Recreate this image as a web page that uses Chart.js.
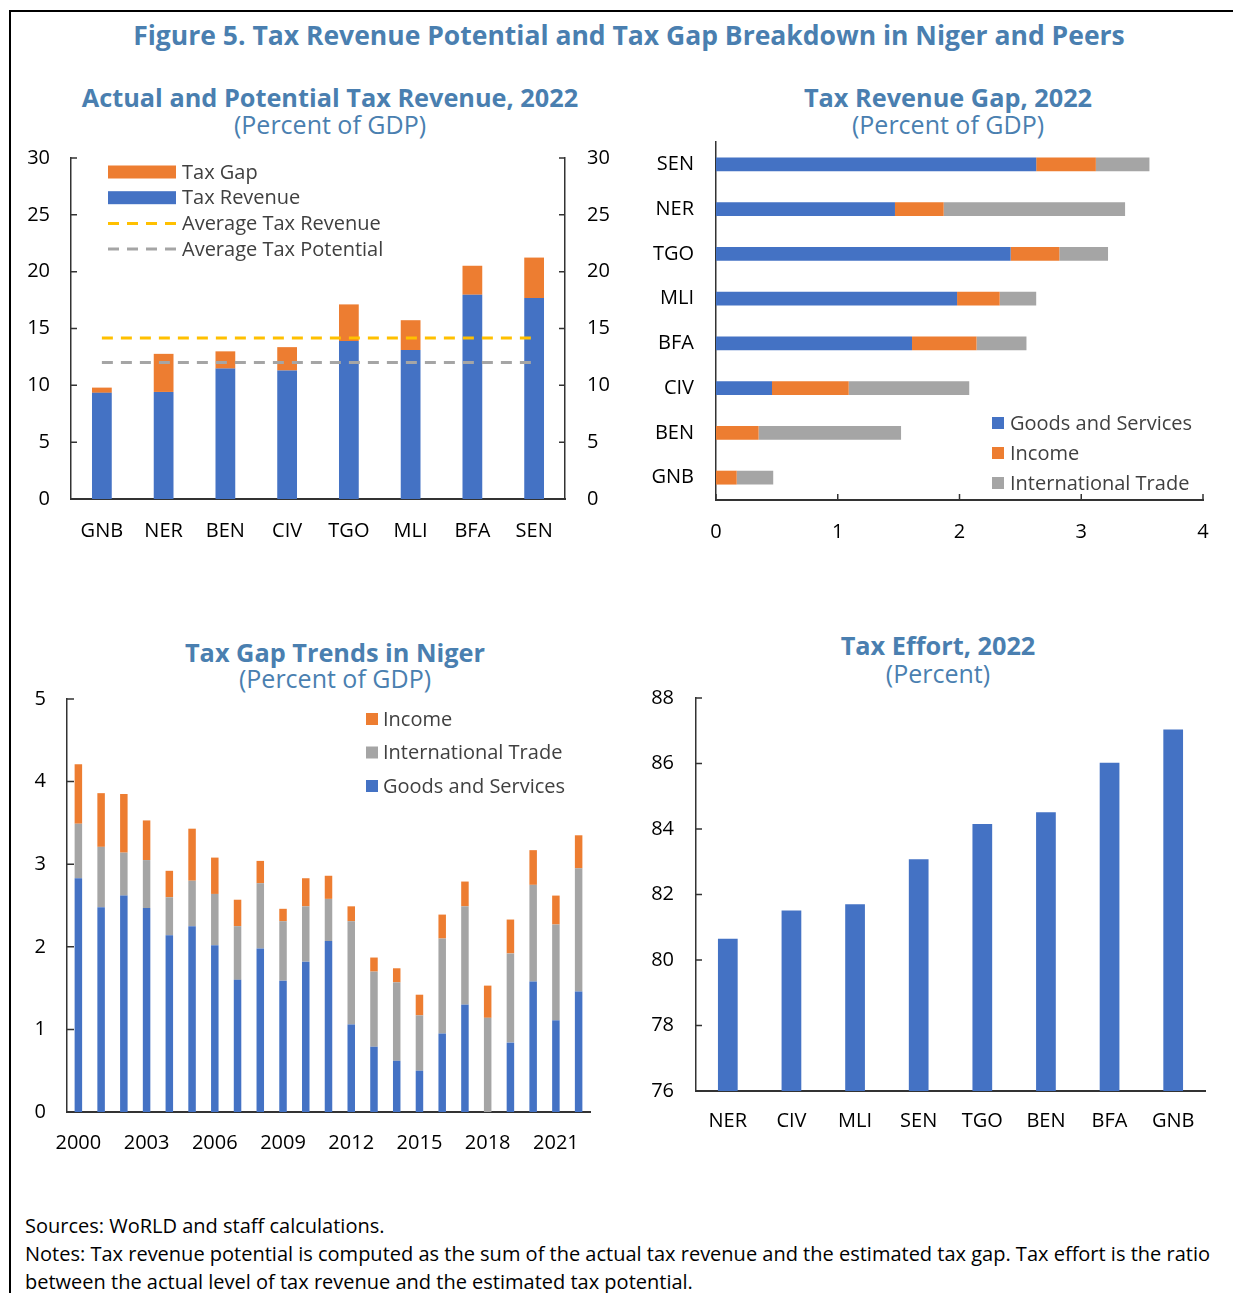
<!DOCTYPE html>
<html>
<head>
<meta charset="utf-8">
<script src="https://cdn.jsdelivr.net/npm/chart.js@4.4.1/dist/chart.umd.min.js"></script>
<style>
  html, body { margin: 0; padding: 0; background: #fff; }
  body { width: 1233px; height: 1293px; position: relative; overflow: hidden; font-family: 'Open Sans', sans-serif; }
  .frame { position: absolute; left: 9px; top: 10px; width: 1400px; height: 1400px; border-left: 2px solid #000; border-top: 2px solid #000; }
  .ttl { position: absolute; width: 700px; text-align: center; color: #4a7fb0; white-space: nowrap; }
  .main { width: 1100px; font-size: 26.5px; font-weight: 700; line-height: 30px; }
  .head { font-size: 25.3px; font-weight: 700; line-height: 28px; }
  .sub { font-size: 25px; line-height: 28px; }
  canvas { position: absolute; }
  .notes { position: absolute; left: 25px; top: 1212px; font-size: 20px; line-height: 28px; color: #000; white-space: nowrap; }
</style>
</head>
<body>
<div class="frame"></div>

<div class="ttl main" style="left:79px; top:20px;">Figure 5. Tax Revenue Potential and Tax Gap Breakdown in Niger and Peers</div>

<div class="ttl head" style="left:-20px; top:83px;">Actual and Potential Tax Revenue, 2022</div>
<div class="ttl sub"  style="left:-20px; top:110px;">(Percent of GDP)</div>
<div class="ttl head" style="left:598px; top:83px;">Tax Revenue Gap, 2022</div>
<div class="ttl sub"  style="left:598px; top:110px;">(Percent of GDP)</div>
<div class="ttl head" style="left:-15px; top:638px;">Tax Gap Trends in Niger</div>
<div class="ttl sub"  style="left:-15px; top:664px;">(Percent of GDP)</div>
<div class="ttl head" style="left:588px; top:631px;">Tax Effort, 2022</div>
<div class="ttl sub"  style="left:588px; top:659px;">(Percent)</div>

<canvas id="c1" width="622" height="409" style="left:0px; top:140px;"></canvas>
<canvas id="c2" width="613" height="420" style="left:620px; top:130px;"></canvas>
<canvas id="c3" width="610" height="477" style="left:0px; top:685px;"></canvas>
<canvas id="c4" width="613" height="457" style="left:620px; top:684px;"></canvas>

<div class="notes">Sources: WoRLD and staff calculations.<br>Notes: Tax revenue potential is computed as the sum of the actual tax revenue and the estimated tax gap. Tax effort is the ratio<br>between the actual level of tax revenue and the estimated tax potential.</div>

<script>
// ---------- Datos ----------
// Panel 1: recaudacion real y brecha, % del PIB
var peers1 = ['GNB', 'NER', 'BEN', 'CIV', 'TGO', 'MLI', 'BFA', 'SEN'];
var taxRevenue = [9.34, 9.42, 11.47, 11.30, 13.90, 13.11, 17.97, 17.68];
var taxGap = [0.46, 3.35, 1.52, 2.06, 3.22, 2.62, 2.55, 3.56];
var avgTaxRevenue = [14.16, 14.16, 14.16, 14.16, 14.16, 14.16, 14.16, 14.16];
var avgTaxPotential = [12.0, 12.0, 12.0, 12.0, 12.0, 12.0, 12.0, 12.0];

// Panel 2: brecha por tipo de impuesto, 2022
var peers2 = ['SEN', 'NER', 'TGO', 'MLI', 'BFA', 'CIV', 'BEN', 'GNB'];
var gapGoods = [2.63, 1.47, 2.42, 1.98, 1.61, 0.46, 0, 0];
var gapIncome = [0.49, 0.40, 0.40, 0.35, 0.53, 0.63, 0.35, 0.17];
var gapTrade = [0.44, 1.49, 0.40, 0.30, 0.41, 0.99, 1.17, 0.30];

// Panel 3: tendencia de la brecha en Niger
var years = ['2000', '2001', '2002', '2003', '2004', '2005', '2006', '2007', '2008', '2009', '2010', '2011',
             '2012', '2013', '2014', '2015', '2016', '2017', '2018', '2019', '2020', '2021', '2022'];
var trendGoods = [2.83, 2.48, 2.62, 2.47, 2.14, 2.25, 2.02, 1.60, 1.98, 1.59, 1.82, 2.07,
                  1.06, 0.79, 0.62, 0.50, 0.95, 1.30, 0, 0.84, 1.58, 1.11, 1.46];
var trendTrade = [0.66, 0.73, 0.52, 0.58, 0.46, 0.55, 0.62, 0.65, 0.79, 0.72, 0.67, 0.51,
                  1.25, 0.91, 0.95, 0.67, 1.15, 1.19, 1.14, 1.08, 1.17, 1.16, 1.49];
var trendIncome = [0.72, 0.65, 0.71, 0.48, 0.32, 0.63, 0.44, 0.32, 0.27, 0.15, 0.34, 0.28,
                   0.18, 0.17, 0.17, 0.25, 0.29, 0.30, 0.39, 0.41, 0.42, 0.35, 0.40];

// Panel 4: esfuerzo tributario, %
var peers4 = ['NER', 'CIV', 'MLI', 'SEN', 'TGO', 'BEN', 'BFA', 'GNB'];
var taxEffort = [80.65, 81.51, 81.70, 83.08, 84.15, 84.51, 86.02, 87.04];

// ---------- Estilo ----------
var BLUE = '#4472C4', ORANGE = '#ED7D31', GRAY = '#A5A5A5', YELLOW = '#FFC000';
var AXIS = '#333333';
var FONT = "'Open Sans', sans-serif";

Chart.defaults.font.family = FONT;
Chart.defaults.font.size = 20;
Chart.defaults.color = '#000';
Chart.defaults.animation = false;
Chart.defaults.plugins.legend.display = false;
Chart.defaults.plugins.tooltip.enabled = false;

// ---------- Plugins ----------
// marcas de eje hacia adentro del area
var innerTicks = {
    id: 'innerTicks',
    afterDatasetsDraw: function (chart, args, o) {
        var ctx = chart.ctx;
        var len = o.len || 6;
        ctx.save();
        ctx.strokeStyle = AXIS;
        ctx.lineWidth = 1.5;
        ctx.beginPath();
        (o.axes || []).forEach(function (id) {
            var s = chart.scales[id];
            s.ticks.forEach(function (t, i) {
                var p = s.getPixelForTick(i);
                if (s.position === 'left') { ctx.moveTo(s.right, p); ctx.lineTo(s.right + len, p); }
                else if (s.position === 'right') { ctx.moveTo(s.left, p); ctx.lineTo(s.left - len, p); }
                else { ctx.moveTo(p, s.top); ctx.lineTo(p, s.top - len); }
            });
        });
        ctx.stroke();
        ctx.restore();
    }
};

// leyenda dibujada dentro del area del grafico
var boxLegend = {
    id: 'boxLegend',
    afterDraw: function (chart, args, o) {
        var a = chart.chartArea, ctx = chart.ctx;
        ctx.save();
        ctx.font = (o.size || 20) + 'px ' + FONT;
        ctx.textBaseline = 'middle';
        ctx.textAlign = 'left';
        for (var i = 0; i < o.items.length; i++) {
            var it = o.items[i];
            var x = a.left + o.x, y = a.top + o.y + i * o.rowGap;
            if (it.dash) {
                ctx.setLineDash(it.dash);
                ctx.strokeStyle = it.color;
                ctx.lineWidth = 3;
                ctx.beginPath();
                ctx.moveTo(x, y);
                ctx.lineTo(x + o.boxW, y);
                ctx.stroke();
                ctx.setLineDash([]);
            } else {
                ctx.fillStyle = it.color;
                ctx.fillRect(x, y - o.boxH / 2, o.boxW, o.boxH);
            }
            ctx.fillStyle = '#404040';
            ctx.fillText(it.text, x + o.textX, y + 1);
        }
        ctx.restore();
    }
};

// ancho / alto fijos de los ejes, sin relleno extra por etiquetas
function fixW(w) { return function (s) { s.width = w; s.paddingTop = 0; s.paddingBottom = 0; }; }
function fixH(h) { return function (s) { s.height = h; s.paddingLeft = 0; s.paddingRight = 0; }; }

function axisBorder(w) { return { display: true, color: AXIS, width: w }; }
var noGrid = { display: false, drawTicks: false };

// ---------- Panel 1 ----------
new Chart(document.getElementById('c1'), {
    type: 'bar',
    data: {
        labels: peers1,
        datasets: [
            { type: 'line', label: 'Average Tax Revenue', data: avgTaxRevenue, stack: 'a1', order: 0,
              borderColor: YELLOW, borderWidth: 3, borderDash: [11, 8], pointRadius: 0, fill: false },
            { type: 'line', label: 'Average Tax Potential', data: avgTaxPotential, stack: 'a2', order: 0,
              borderColor: GRAY, borderWidth: 3, borderDash: [11, 8], pointRadius: 0, fill: false },
            { label: 'Tax Revenue', data: taxRevenue, backgroundColor: BLUE, stack: 'b', order: 1,
              categoryPercentage: 1, barPercentage: 0.32 },
            { label: 'Tax Gap', data: taxGap, backgroundColor: ORANGE, stack: 'b', order: 1,
              categoryPercentage: 1, barPercentage: 0.32 }
        ]
    },
    options: {
        responsive: false,
        layout: { padding: { top: 18, left: 0, right: 0, bottom: 0 } },
        scales: {
            x: { stacked: true, grid: noGrid, border: axisBorder(2),
                 ticks: { padding: 20, maxRotation: 0 }, afterFit: fixH(50) },
            y: { stacked: true, position: 'left', min: 0, max: 30, grid: noGrid, border: axisBorder(1.5),
                 ticks: { stepSize: 5, padding: 21 }, afterFit: fixW(71) },
            y2: { position: 'right', min: 0, max: 30, grid: noGrid, border: axisBorder(1.5),
                  ticks: { stepSize: 5, padding: 22 }, afterFit: fixW(57) }
        },
        plugins: {
            innerTicks: { axes: ['y', 'y2'], len: 6 },
            boxLegend: {
                x: 37, y: 14, rowGap: 25.7, boxW: 68, boxH: 13, textX: 74, size: 20,
                items: [
                    { text: 'Tax Gap', color: ORANGE },
                    { text: 'Tax Revenue', color: BLUE },
                    { text: 'Average Tax Revenue', color: YELLOW, dash: [11, 8] },
                    { text: 'Average Tax Potential', color: GRAY, dash: [11, 8] }
                ]
            }
        }
    },
    plugins: [innerTicks, boxLegend]
});

// ---------- Panel 2 ----------
new Chart(document.getElementById('c2'), {
    type: 'bar',
    data: {
        labels: peers2,
        datasets: [
            { label: 'Goods and Services', data: gapGoods, backgroundColor: BLUE },
            { label: 'Income', data: gapIncome, backgroundColor: ORANGE },
            { label: 'International Trade', data: gapTrade, backgroundColor: GRAY }
        ]
    },
    options: {
        responsive: false,
        indexAxis: 'y',
        datasets: { bar: { categoryPercentage: 1, barPercentage: 0.31 } },
        layout: { padding: { top: 12, left: 0, right: 30, bottom: 0 } },
        scales: {
            x: { stacked: true, min: 0, max: 4, grid: noGrid, border: axisBorder(2),
                 ticks: { stepSize: 1, padding: 20, maxRotation: 0 }, afterFit: fixH(50) },
            y: { stacked: true, grid: noGrid, border: axisBorder(1.5),
                 ticks: { padding: 22 }, afterFit: fixW(96) }
        },
        plugins: {
            innerTicks: { axes: ['x'], len: 6 },
            boxLegend: {
                x: 276, y: 281, rowGap: 30, boxW: 12, boxH: 12, textX: 18, size: 20,
                items: [
                    { text: 'Goods and Services', color: BLUE },
                    { text: 'Income', color: ORANGE },
                    { text: 'International Trade', color: GRAY }
                ]
            }
        }
    },
    plugins: [innerTicks, boxLegend]
});

// ---------- Panel 3 ----------
new Chart(document.getElementById('c3'), {
    type: 'bar',
    data: {
        labels: years,
        datasets: [
            { label: 'Goods and Services', data: trendGoods, backgroundColor: BLUE },
            { label: 'International Trade', data: trendTrade, backgroundColor: GRAY },
            { label: 'Income', data: trendIncome, backgroundColor: ORANGE }
        ]
    },
    options: {
        responsive: false,
        datasets: { bar: { categoryPercentage: 1, barPercentage: 0.33 } },
        layout: { padding: { top: 14, left: 0, right: 20, bottom: 0 } },
        scales: {
            x: { stacked: true, grid: noGrid, border: axisBorder(2), afterFit: fixH(50),
                 ticks: { padding: 19, maxRotation: 0, autoSkip: false,
                          callback: function (v, i) { return i % 3 === 0 ? this.getLabelForValue(v) : ''; } } },
            y: { stacked: true, min: 0, max: 5, grid: noGrid, border: axisBorder(1.5),
                 ticks: { stepSize: 1, padding: 21 }, afterFit: fixW(67) }
        },
        plugins: {
            innerTicks: { axes: ['y'], len: 7 },
            boxLegend: {
                x: 299, y: 20, rowGap: 33.5, boxW: 12, boxH: 12, textX: 17, size: 20,
                items: [
                    { text: 'Income', color: ORANGE },
                    { text: 'International Trade', color: GRAY },
                    { text: 'Goods and Services', color: BLUE }
                ]
            }
        }
    },
    plugins: [innerTicks, boxLegend]
});

// ---------- Panel 4 ----------
new Chart(document.getElementById('c4'), {
    type: 'bar',
    data: {
        labels: peers4,
        datasets: [
            { label: 'Tax Effort', data: taxEffort, backgroundColor: BLUE,
              categoryPercentage: 1, barPercentage: 0.31 }
        ]
    },
    options: {
        responsive: false,
        layout: { padding: { top: 14, left: 0, right: 28, bottom: 0 } },
        scales: {
            x: { grid: noGrid, border: axisBorder(2), afterFit: fixH(50),
                 ticks: { padding: 18, maxRotation: 0 } },
            y: { min: 76, max: 88, grid: noGrid, border: axisBorder(1.5),
                 ticks: { stepSize: 2, padding: 22 }, afterFit: fixW(76) }
        },
        plugins: {
            innerTicks: { axes: ['y'], len: 6 }
        }
    },
    plugins: [innerTicks]
});
</script>
</body>
</html>
